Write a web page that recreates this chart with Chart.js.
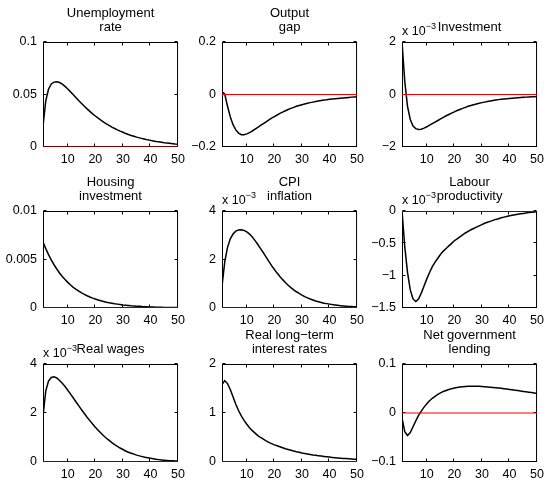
<!DOCTYPE html>
<html>
<head>
<meta charset="utf-8">
<script src="https://cdn.jsdelivr.net/npm/chart.js@4.4.0/dist/chart.umd.min.js"></script>
<style>
  body { margin: 0; background: #fff; width: 546px; height: 480px; position: relative; overflow: hidden; }
  canvas { position: absolute; }
</style>
</head>
<body>
<script>
// periods 1..50
const periods = [];
for (let t = 1; t <= 50; t++) periods.push(t);

const unemploymentRate = [0.020, 0.044, 0.055, 0.0600, 0.0618, 0.0621, 0.0614, 0.0598, 0.0577, 0.0552,
  0.0525, 0.0497, 0.0469, 0.0441, 0.0414, 0.0388, 0.0363, 0.0339, 0.0316, 0.0295,
  0.0275, 0.0256, 0.0238, 0.0221, 0.0205, 0.0190, 0.0176, 0.0163, 0.0151, 0.0140,
  0.0129, 0.0119, 0.0110, 0.0102, 0.0094, 0.0087, 0.0080, 0.0074, 0.0068, 0.0063,
  0.0058, 0.0053, 0.0049, 0.0045, 0.0041, 0.0038, 0.0035, 0.0032, 0.0029, 0.0027];

const outputGap = [0.010, 0.002, -0.045, -0.085, -0.115, -0.135, -0.147, -0.153, -0.153, -0.150,
  -0.145, -0.139, -0.132, -0.125, -0.118, -0.111, -0.104, -0.097, -0.090, -0.084,
  -0.078, -0.072, -0.067, -0.062, -0.057, -0.053, -0.049, -0.045, -0.042, -0.039,
  -0.036, -0.033, -0.031, -0.029, -0.027, -0.025, -0.023, -0.021, -0.020, -0.018,
  -0.017, -0.016, -0.015, -0.014, -0.013, -0.012, -0.011, -0.010, -0.0095, -0.009];

// x 10^-3
const investment = [2.0, 0.5, -0.45, -0.95, -1.20, -1.30, -1.33, -1.32, -1.28, -1.23,
  -1.17, -1.11, -1.05, -0.99, -0.93, -0.87, -0.81, -0.76, -0.71, -0.66,
  -0.61, -0.57, -0.53, -0.49, -0.45, -0.42, -0.39, -0.36, -0.335, -0.31,
  -0.29, -0.27, -0.25, -0.23, -0.21, -0.195, -0.18, -0.17, -0.16, -0.15,
  -0.14, -0.13, -0.12, -0.11, -0.105, -0.10, -0.095, -0.09, -0.085, -0.08];

const housingInvestment = [0.00680, 0.00612, 0.00551, 0.00496, 0.00446, 0.00402, 0.00361, 0.00325, 0.00293, 0.00264,
  0.00237, 0.00213, 0.00192, 0.00173, 0.00156, 0.00140, 0.00126, 0.00113, 0.00102, 0.00092,
  0.00083, 0.00074, 0.00067, 0.00060, 0.00054, 0.00049, 0.00044, 0.00040, 0.00036, 0.00032,
  0.00029, 0.00026, 0.00023, 0.00021, 0.00019, 0.00017, 0.00015, 0.00014, 0.00012, 0.00011,
  0.00010, 0.00009, 0.00008, 0.00007, 0.00006, 0.00006, 0.00005, 0.00005, 0.00004, 0.00004];

// x 10^-3
const cpiInflation = [0.9, 1.9, 2.5, 2.85, 3.05, 3.17, 3.22, 3.23, 3.20, 3.14,
  3.05, 2.93, 2.78, 2.62, 2.45, 2.28, 2.10, 1.92, 1.75, 1.59,
  1.44, 1.30, 1.17, 1.05, 0.94, 0.84, 0.75, 0.67, 0.60, 0.53,
  0.47, 0.42, 0.37, 0.33, 0.29, 0.26, 0.23, 0.20, 0.18, 0.16,
  0.14, 0.125, 0.11, 0.097, 0.085, 0.075, 0.066, 0.058, 0.051, 0.045];

// x 10^-3
const labourProductivity = [0.0, -0.55, -0.95, -1.22, -1.36, -1.40, -1.36, -1.27, -1.16, -1.05,
  -0.95, -0.86, -0.79, -0.73, -0.67, -0.62, -0.58, -0.54, -0.50, -0.46,
  -0.43, -0.40, -0.37, -0.34, -0.315, -0.29, -0.27, -0.25, -0.23, -0.21,
  -0.19, -0.175, -0.16, -0.145, -0.13, -0.12, -0.105, -0.095, -0.085, -0.075,
  -0.066, -0.058, -0.05, -0.043, -0.037, -0.031, -0.025, -0.02, -0.015, -0.011];

// x 10^-3
const realWages = [1.85, 2.9, 3.3, 3.45, 3.48, 3.43, 3.33, 3.21, 3.08, 2.93,
  2.77, 2.61, 2.45, 2.29, 2.13, 1.98, 1.83, 1.69, 1.55, 1.42,
  1.30, 1.18, 1.07, 0.97, 0.88, 0.79, 0.71, 0.64, 0.57, 0.51,
  0.45, 0.40, 0.36, 0.32, 0.28, 0.25, 0.22, 0.19, 0.17, 0.15,
  0.13, 0.11, 0.097, 0.085, 0.074, 0.064, 0.056, 0.048, 0.042, 0.036];

const realLongRates = [1.58, 1.66, 1.60, 1.48, 1.33, 1.18, 1.05, 0.94, 0.85, 0.77,
  0.70, 0.64, 0.59, 0.54, 0.50, 0.465, 0.43, 0.40, 0.375, 0.35,
  0.33, 0.31, 0.29, 0.27, 0.255, 0.24, 0.225, 0.21, 0.20, 0.185,
  0.175, 0.165, 0.155, 0.145, 0.137, 0.129, 0.121, 0.114, 0.107, 0.10,
  0.094, 0.088, 0.083, 0.078, 0.073, 0.069, 0.065, 0.061, 0.057, 0.054];

const netGovLending = [-0.010, -0.038, -0.046, -0.040, -0.028, -0.016, -0.005, 0.004, 0.012, 0.019,
  0.025, 0.030, 0.034, 0.038, 0.041, 0.044, 0.046, 0.048, 0.0497, 0.051,
  0.052, 0.053, 0.0537, 0.0542, 0.0545, 0.0547, 0.0547, 0.0546, 0.0544, 0.0540,
  0.0536, 0.0532, 0.0527, 0.0522, 0.0516, 0.0510, 0.0503, 0.0496, 0.0489, 0.0481,
  0.0473, 0.0465, 0.0457, 0.0449, 0.0441, 0.0433, 0.0424, 0.0416, 0.0408, 0.0400];

const series = [unemploymentRate, outputGap, investment, housingInvestment, cpiInflation,
  labourProductivity, realWages, realLongRates, netGovLending];

const titles = [['Unemployment', 'rate'], ['Output', 'gap'], ['Investment'],
  ['Housing', 'investment'], ['CPI', 'inflation'], ['Labour', 'productivity'],
  ['Real wages'], ['Real long\u2212term', 'interest rates'], ['Net government', 'lending']];

const yTicks = [[0, 0.05, 0.1], [-0.2, 0, 0.2], [-2, 0, 2],
  [0, 0.005, 0.01], [0, 2, 4], [-1.5, -1, -0.5, 0],
  [0, 2, 4], [0, 1, 2], [-0.1, 0, 0.1]];

const scaledE3 = [false, false, true, false, true, true, true, false, false];
const xTicks = [10, 20, 30, 40, 50];

// layout of the 3x3 grid (plot areas)
const colX = [43, 222, 402], colW = 137;
const rowY = [42, 211, 364], rowH = [105, 97, 98];
const pad = { left: 0, top: 44, right: 10, bottom: 2 };
const yAxisW = 46, xAxisH = 22;
const FONT = '"Liberation Sans", Arial, Helvetica, sans-serif';
const TICK_PX = 12.5, TITLE_PX = 13;

Chart.defaults.font.family = FONT;
Chart.defaults.font.size = TICK_PX;
Chart.defaults.color = '#000';

const fmt = v => String(v).replace('-', '\u2212');

const matlabAxes = {
  id: 'matlabAxes',
  beforeDatasetsDraw(chart, args, opts) {
    const { ctx, chartArea: a, scales } = chart;
    ctx.save();
    ctx.strokeStyle = '#000';
    ctx.lineWidth = 1;
    const l = a.left + 0.5, r = a.right - 0.5, t = a.top + 0.5, b = a.bottom - 0.5;
    ctx.strokeRect(l, t, r - l, b - t);
    ctx.beginPath();
    xTicks.forEach(v => {
      const x = Math.round(scales.x.getPixelForValue(v)) - 0.5;
      ctx.moveTo(x, t); ctx.lineTo(x, t + 3);
      ctx.moveTo(x, b); ctx.lineTo(x, b - 3);
    });
    opts.yTicks.forEach(v => {
      const y = Math.round(scales.y.getPixelForValue(v)) - 0.5;
      ctx.moveTo(l, y); ctx.lineTo(l + 3, y);
      ctx.moveTo(r, y); ctx.lineTo(r - 3, y);
    });
    ctx.stroke();
    ctx.restore();
  },
  afterDraw(chart, args, opts) {
    const { ctx, chartArea: a } = chart;
    ctx.save();
    ctx.fillStyle = '#000';
    ctx.font = TITLE_PX + 'px ' + FONT;
    ctx.textAlign = 'center';
    ctx.textBaseline = 'alphabetic';
    const cx = (a.left + a.right) / 2;
    const lines = opts.title;
    lines.forEach((s, i) => {
      const base = a.top - 11 - 14 * (lines.length - 1 - i);
      ctx.fillText(s, cx, base);
    });
    if (opts.scaled) {
      ctx.textAlign = 'left';
      ctx.font = TICK_PX + 'px ' + FONT;
      ctx.fillText('x 10', a.left, a.top - 7);
      const w = ctx.measureText('x 10').width;
      ctx.font = '9px ' + FONT;
      ctx.fillText('\u22123', a.left + w, a.top - 13);
    }
    ctx.restore();
  }
};

series.forEach((vals, i) => {
  const c = i % 3, r = Math.floor(i / 3);
  const cv = document.createElement('canvas');
  const offL = pad.left + yAxisW, offT = pad.top;
  const w = colW + offL + pad.right, h = rowH[r] + offT + xAxisH + pad.bottom;
  cv.width = w; cv.height = h;
  cv.style.left = (colX[c] - offL) + 'px';
  cv.style.top = (rowY[r] - offT) + 'px';
  cv.style.width = w + 'px'; cv.style.height = h + 'px';
  document.body.appendChild(cv);

  const ticks = yTicks[i];
  new Chart(cv, {
    type: 'line',
    data: {
      datasets: [
        {
          data: [{ x: periods[0], y: 0 }, { x: periods[periods.length - 1], y: 0 }],
          borderColor: '#ff0000', borderWidth: 1.2, pointRadius: 0, tension: 0
        },
        {
          data: periods.map((p, k) => ({ x: p, y: vals[k] })),
          borderColor: '#000', borderWidth: 1.5, pointRadius: 0, tension: 0
        }
      ]
    },
    options: {
      responsive: false,
      animation: false,
      events: [],
      layout: { padding: pad },
      plugins: {
        legend: { display: false },
        tooltip: { enabled: false },
        matlabAxes: { title: titles[i], yTicks: ticks, scaled: scaledE3[i] }
      },
      scales: {
        x: {
          type: 'linear', min: 1, max: 50,
          grid: { display: false, drawTicks: false, tickLength: 0 }, border: { display: false },
          afterBuildTicks: s => { s.ticks = xTicks.map(v => ({ value: v })); },
          afterFit: s => { s.height = xAxisH; },
          ticks: { padding: 5, maxRotation: 0, autoSkip: false }
        },
        y: {
          type: 'linear', min: ticks[0], max: ticks[ticks.length - 1],
          grid: { display: false, drawTicks: false, tickLength: 0 }, border: { display: false },
          afterBuildTicks: s => { s.ticks = ticks.map(v => ({ value: v })); },
          afterFit: s => { s.width = yAxisW; },
          ticks: { padding: 6, callback: v => fmt(v) }
        }
      }
    },
    plugins: [matlabAxes]
  });
});
</script>
</body>
</html>
